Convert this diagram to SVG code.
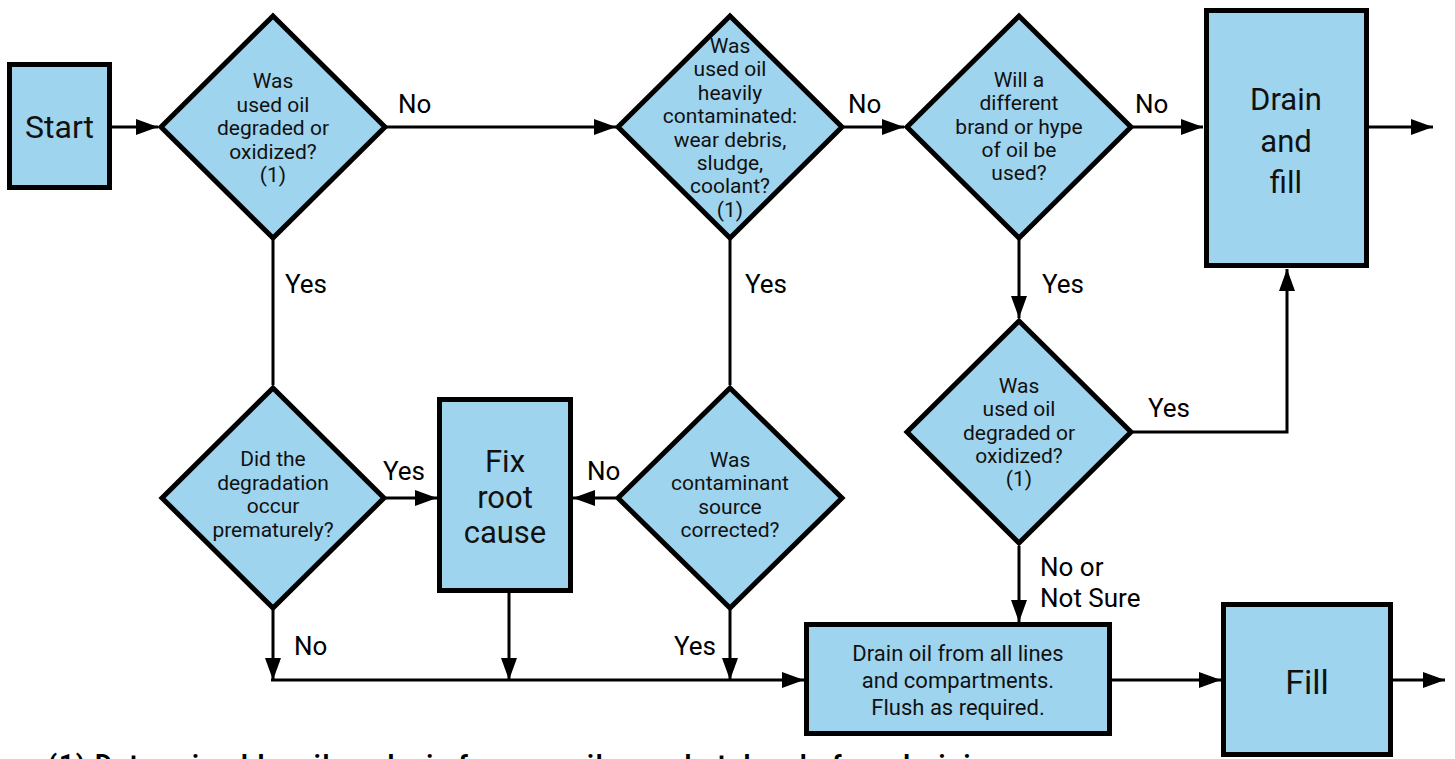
<svg xmlns="http://www.w3.org/2000/svg" width="1455" height="759" viewBox="0 0 1455 759">
<defs>
<marker id="ah" markerWidth="22" markerHeight="16" refX="22" refY="8" orient="auto" markerUnits="userSpaceOnUse"><path d="M0,0 L22,8 L0,16 Z" fill="#000"/></marker>
<style>
.box{fill:#9fd4ef;stroke:#000;stroke-width:5}
.dia{fill:#9fd4ef;stroke:#000;stroke-width:5;stroke-linejoin:miter}
.t{font-family:Roboto,"Liberation Sans",sans-serif;fill:#111;text-anchor:middle}
.d{font-size:21px}
.big{font-size:31px}
.lbl{font-family:Roboto,"Liberation Sans",sans-serif;font-size:26px;fill:#000}
.c{fill:none;stroke:#000;stroke-width:3}
.a{marker-end:url(#ah)}
.foot{font-family:Roboto,"Liberation Sans",sans-serif;font-size:26px;font-weight:bold;fill:#000}
</style>
</defs>
<rect width="1455" height="759" fill="#fff"/>

<g id="connectors">
<path class="c a" d="M112,127 H158"/>
<path class="c a" d="M385,127 H616"/>
<path class="c a" d="M844,127 H904"/>
<path class="c a" d="M1133,127 H1203"/>
<path class="c a" d="M1369,127 H1433"/>
<path class="c a" d="M1019,238 V318"/>
<path class="c a" d="M1133,432 H1287 V269"/>
<path class="c a" d="M1019,546 V622"/>
<path class="c" d="M273,238 V385"/>
<path class="c" d="M730,238 V385"/>
<path class="c a" d="M386,498 H437"/>
<path class="c a" d="M616,498 H573"/>
<path class="c a" d="M273,610 V680"/>
<path class="c a" d="M509,593 V680"/>
<path class="c a" d="M730,610 V680"/>
<path class="c a" d="M271,680 H804"/>
<path class="c a" d="M1112,680 H1221"/>
<path class="c a" d="M1393,680 H1445"/>
</g>

<g id="labels">
<text class="lbl" x="398" y="113">No</text>
<text class="lbl" x="848" y="113">No</text>
<text class="lbl" x="1135" y="113">No</text>
<text class="lbl" x="285" y="293">Yes</text>
<text class="lbl" x="745" y="293">Yes</text>
<text class="lbl" x="1042" y="293">Yes</text>
<text class="lbl" x="1148" y="417">Yes</text>
<text class="lbl" x="383" y="480">Yes</text>
<text class="lbl" x="587" y="480">No</text>
<text class="lbl" x="294" y="655">No</text>
<text class="lbl" x="674" y="655">Yes</text>
<text class="lbl" x="1040" y="576">No or</text>
<text class="lbl" x="1040" y="607">Not Sure</text>
</g>

<g id="start">
<rect class="box" x="9.5" y="64.5" width="100" height="123"/>
<text class="t" x="59.5" y="138" font-size="32">Start</text>
</g>

<g id="d1">
<polygon class="dia" points="273,16 385,127 273,238 161,127"/>
<text class="t d" x="273"><tspan x="273" y="88">Was</tspan><tspan x="273" y="111.5">used oil</tspan><tspan x="273" y="135">degraded or</tspan><tspan x="273" y="158.5">oxidized?</tspan><tspan x="273" y="182">(1)</tspan></text>
</g>

<g id="d2">
<polygon class="dia" points="730,16 842,127 730,238 618,127"/>
<text class="t d" x="730"><tspan x="730" y="53">Was</tspan><tspan x="730" y="76.4">used oil</tspan><tspan x="730" y="99.8">heavily</tspan><tspan x="730" y="123.2">contaminated:</tspan><tspan x="730" y="146.6">wear debris,</tspan><tspan x="730" y="170">sludge,</tspan><tspan x="730" y="193.4">coolant?</tspan><tspan x="730" y="216.8">(1)</tspan></text>
</g>

<g id="d3">
<polygon class="dia" points="1019,16 1131,127 1019,238 907,127"/>
<text class="t d" x="1019"><tspan x="1019" y="87">Will a</tspan><tspan x="1019" y="110">different</tspan><tspan x="1019" y="133.5">brand or hype</tspan><tspan x="1019" y="157">of oil be</tspan><tspan x="1019" y="180">used?</tspan></text>
</g>

<g id="drainfill">
<rect class="box" x="1206.5" y="10.5" width="160" height="255"/>
<text class="t big" x="1286"><tspan x="1286" y="110">Drain</tspan><tspan x="1286" y="151.5">and</tspan><tspan x="1286" y="193">fill</tspan></text>
</g>

<g id="d4">
<polygon class="dia" points="1019,321 1131,432 1019,543 907,432"/>
<text class="t d" x="1019"><tspan x="1019" y="393">Was</tspan><tspan x="1019" y="416">used oil</tspan><tspan x="1019" y="439.5">degraded or</tspan><tspan x="1019" y="463">oxidized?</tspan><tspan x="1019" y="486">(1)</tspan></text>
</g>

<g id="d5">
<polygon class="dia" points="273,388 384,498 273,608 162,498"/>
<text class="t d" x="273"><tspan x="273" y="466">Did the</tspan><tspan x="273" y="489.7">degradation</tspan><tspan x="273" y="513.4">occur</tspan><tspan x="273" y="537">prematurely?</tspan></text>
</g>

<g id="fix">
<rect class="box" x="439.5" y="399.5" width="131" height="191"/>
<text class="t big" x="505"><tspan x="505" y="472">Fix</tspan><tspan x="505" y="507.5">root</tspan><tspan x="505" y="543">cause</tspan></text>
</g>

<g id="d6">
<polygon class="dia" points="730,388 842,498 730,608 618,498"/>
<text class="t d" x="730"><tspan x="730" y="467">Was</tspan><tspan x="730" y="490.3">contaminant</tspan><tspan x="730" y="513.7">source</tspan><tspan x="730" y="537">corrected?</tspan></text>
</g>

<g id="drainoil">
<rect class="box" x="806.5" y="624.5" width="303" height="109"/>
<text class="t" x="958" font-size="22"><tspan x="958" y="661">Drain oil from all lines</tspan><tspan x="958" y="688">and compartments.</tspan><tspan x="958" y="715">Flush as required.</tspan></text>
</g>

<g id="fill">
<rect class="box" x="1223.5" y="604.5" width="167" height="150"/>
<text class="t" x="1307" y="694" font-size="34">Fill</text>
</g>

<text class="foot" x="48" y="773" textLength="965" lengthAdjust="spacing">(1) Determined by oil analysis from an oil sample taken before draining.</text>
</svg>
